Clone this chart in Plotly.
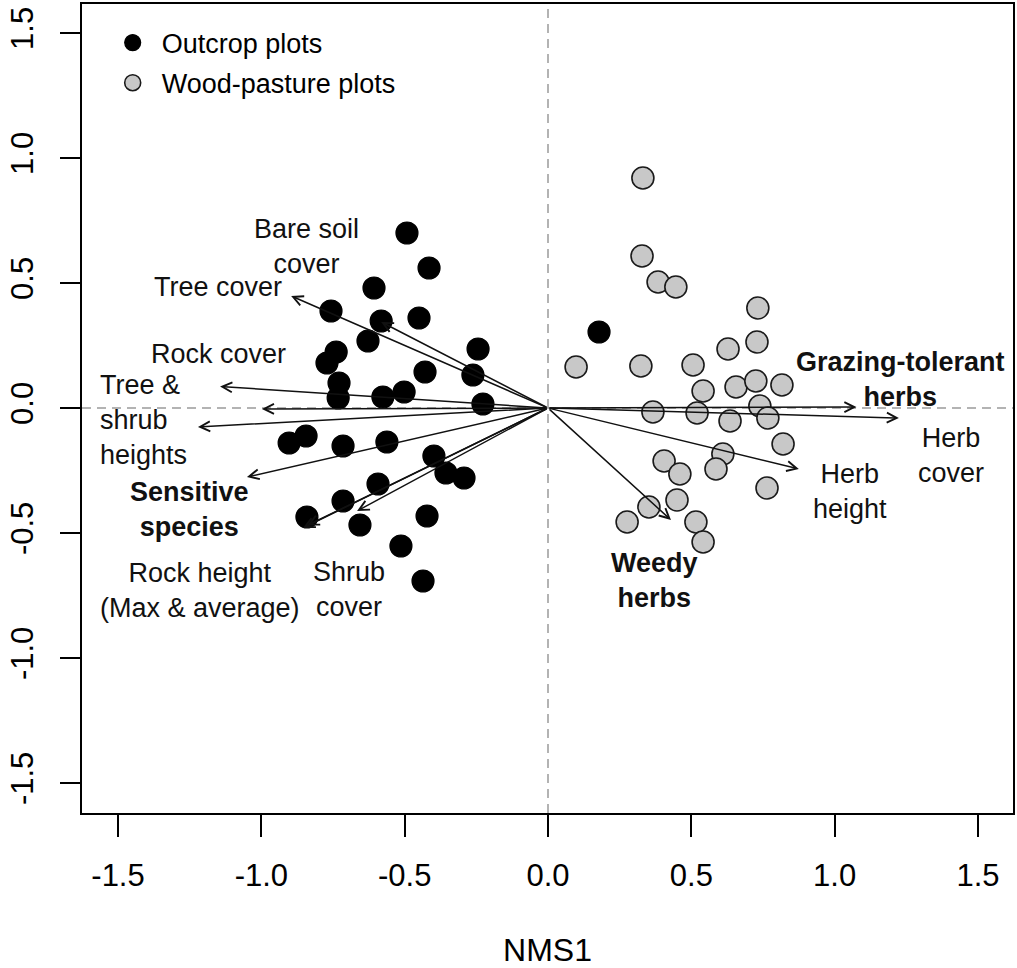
import plotly.graph_objects as go

# ---- data (NMS ordination scores) ----
outcrop_x = [-0.492, -0.415, -0.607, -0.757, -0.450, -0.582, -0.628, -0.244, -0.739, -0.771,
             -0.429, -0.262, -0.729, -0.502, -0.576, -0.732, -0.227, -0.903, -0.844, -0.715,
             -0.562, -0.398, -0.356, -0.293, -0.593, -0.715, -0.841, -0.656, -0.422, -0.513,
             -0.436, 0.178]
outcrop_y = [0.700, 0.560, 0.480, 0.388, 0.360, 0.348, 0.268, 0.236, 0.224, 0.180,
             0.144, 0.132, 0.100, 0.064, 0.044, 0.040, 0.016, -0.140, -0.112, -0.152,
             -0.136, -0.192, -0.260, -0.280, -0.304, -0.372, -0.436, -0.468, -0.432, -0.552,
             -0.692, 0.304]

wood_x = [0.331, 0.328, 0.384, 0.446, 0.732, 0.729, 0.628, 0.098, 0.324, 0.506,
          0.541, 0.656, 0.725, 0.816, 0.739, 0.366, 0.520, 0.635, 0.767, 0.820,
          0.610, 0.405, 0.460, 0.586, 0.764, 0.450, 0.352, 0.276, 0.516, 0.541]
wood_y = [0.920, 0.608, 0.504, 0.484, 0.400, 0.264, 0.236, 0.164, 0.168, 0.172,
          0.068, 0.084, 0.108, 0.092, 0.008, -0.016, -0.020, -0.052, -0.040, -0.144,
          -0.184, -0.212, -0.264, -0.244, -0.320, -0.368, -0.396, -0.456, -0.456, -0.536]

# environmental / species-group vectors (arrow tips)
vector_names = ["Tree cover", "Bare soil cover", "Rock cover", "Tree height", "Shrub height",
                "Sensitive species", "Rock height max", "Rock height average", "Shrub cover",
                "Grazing-tolerant herbs", "Herb cover", "Herb height", "Weedy herbs"]
vector_x = [-0.896, -0.582, -1.144, -0.998, -1.221, -1.050, -0.855, -0.840, -0.666,
            1.076, 1.224, 0.875, 0.429]
vector_y = [0.448, 0.344, 0.086, -0.004, -0.076, -0.276, -0.480, -0.470, -0.412,
            0.004, -0.040, -0.244, -0.448]

# vector labels
label_texts = ["Bare soil<br>cover", "Tree cover", "Rock cover", "Tree &<br>shrub<br>heights",
               "<b>Sensitive<br>species</b>", "Rock height<br>(Max & average)", "Shrub<br>cover",
               "<b>Weedy<br>herbs</b>", "<b>Grazing-tolerant<br>herbs</b>", "Herb<br>cover",
               "Herb<br>height"]

x_ticks = [-1.5, -1.0, -0.5, 0.0, 0.5, 1.0, 1.5]
x_tick_text = ["-1.5", "-1.0", "-0.5", "0.0", "0.5", "1.0", "1.5"]
y_ticks = [-1.5, -1.0, -0.5, 0.0, 0.5, 1.0, 1.5]
y_tick_text = ["-1.5", "-1.0", "-0.5", "0.0", "0.5", "1.0", "1.5"]

# ---- layout helpers (label placement, not data) ----
label_pos = [(-0.841, 0.648, "center"), (-1.151, 0.484, "center"), (-1.151, 0.216, "center"),
             (-1.570, -0.048, "left"), (-1.252, -0.404, "center"), (-1.214, -0.728, "center"),
             (-0.694, -0.724, "center"), (0.373, -0.688, "center"), (1.228, 0.116, "center"),
             (1.406, -0.188, "center"), (1.053, -0.332, "center")]

FONT = "Liberation Sans, Arial, sans-serif"

fig = go.Figure()
fig.add_trace(go.Scatter(
    x=outcrop_x, y=outcrop_y, mode="markers", name="Outcrop plots", legendgroup="a",
    marker=dict(size=22, color="black", line=dict(color="black", width=1.2))))
fig.add_trace(go.Scatter(
    x=wood_x, y=wood_y, mode="markers", name="Wood-pasture plots", legendgroup="b",
    marker=dict(size=22, color="#c8c8c8", line=dict(color="#1a1a1a", width=1.6))))

fig.add_hline(y=0, line=dict(color="#9a9a9a", width=1.5, dash="9px,6px"), layer="below")
fig.add_vline(x=0, line=dict(color="#9a9a9a", width=1.5, dash="9px,6px"), layer="below")

for vx, vy in zip(vector_x, vector_y):
    fig.add_annotation(x=vx, y=vy, ax=0, ay=0, xref="x", yref="y", axref="x", ayref="y",
                       showarrow=True, arrowhead=5, arrowsize=1.3, arrowwidth=1.5,
                       arrowcolor="#111111", text="")

for txt, (lx, ly, al) in zip(label_texts, label_pos):
    fig.add_annotation(x=lx, y=ly, xref="x", yref="y", text=txt, showarrow=False,
                       align=al, xanchor=("left" if al == "left" else "center"),
                       yanchor="middle", font=dict(family=FONT, size=27, color="#111111"))

fig.update_xaxes(range=[-1.6256, 1.6221], tickvals=x_ticks, ticktext=x_tick_text,
                 showgrid=False, zeroline=False, showline=True, mirror=True,
                 linecolor="black", linewidth=2, ticks="outside", ticklen=22, tickwidth=2,
                 tickcolor="black", tickfont=dict(family=FONT, size=31, color="black"),
                 ticklabelstandoff=12, automargin=False,
                 title=dict(text="NMS1", font=dict(family=FONT, size=32, color="black"),
                            standoff=52))
fig.update_yaxes(range=[-1.620, 1.616], tickvals=y_ticks, ticktext=y_tick_text,
                 showgrid=False, zeroline=False, showline=True, mirror=True,
                 linecolor="black", linewidth=2, ticks="outside", ticklen=20, tickwidth=2,
                 tickcolor="black", tickangle=-90, automargin=False,
                 tickfont=dict(family=FONT, size=31, color="black"), ticklabelstandoff=15)

fig.update_layout(
    width=1017, height=968,
    margin=dict(l=82, r=4, t=4, b=155),
    paper_bgcolor="white", plot_bgcolor="white",
    showlegend=True,
    legend=dict(x=0.0233, y=0.982, xanchor="left", yanchor="top",
                bgcolor="rgba(0,0,0,0)", font=dict(family=FONT, size=27, color="black"),
                itemsizing="trace", itemwidth=48, tracegroupgap=2),
)

fig.write_html("out.html", config={"displayModeBar": False},
               post_script="document.body.style.margin='0';document.body.style.overflow='hidden';")
